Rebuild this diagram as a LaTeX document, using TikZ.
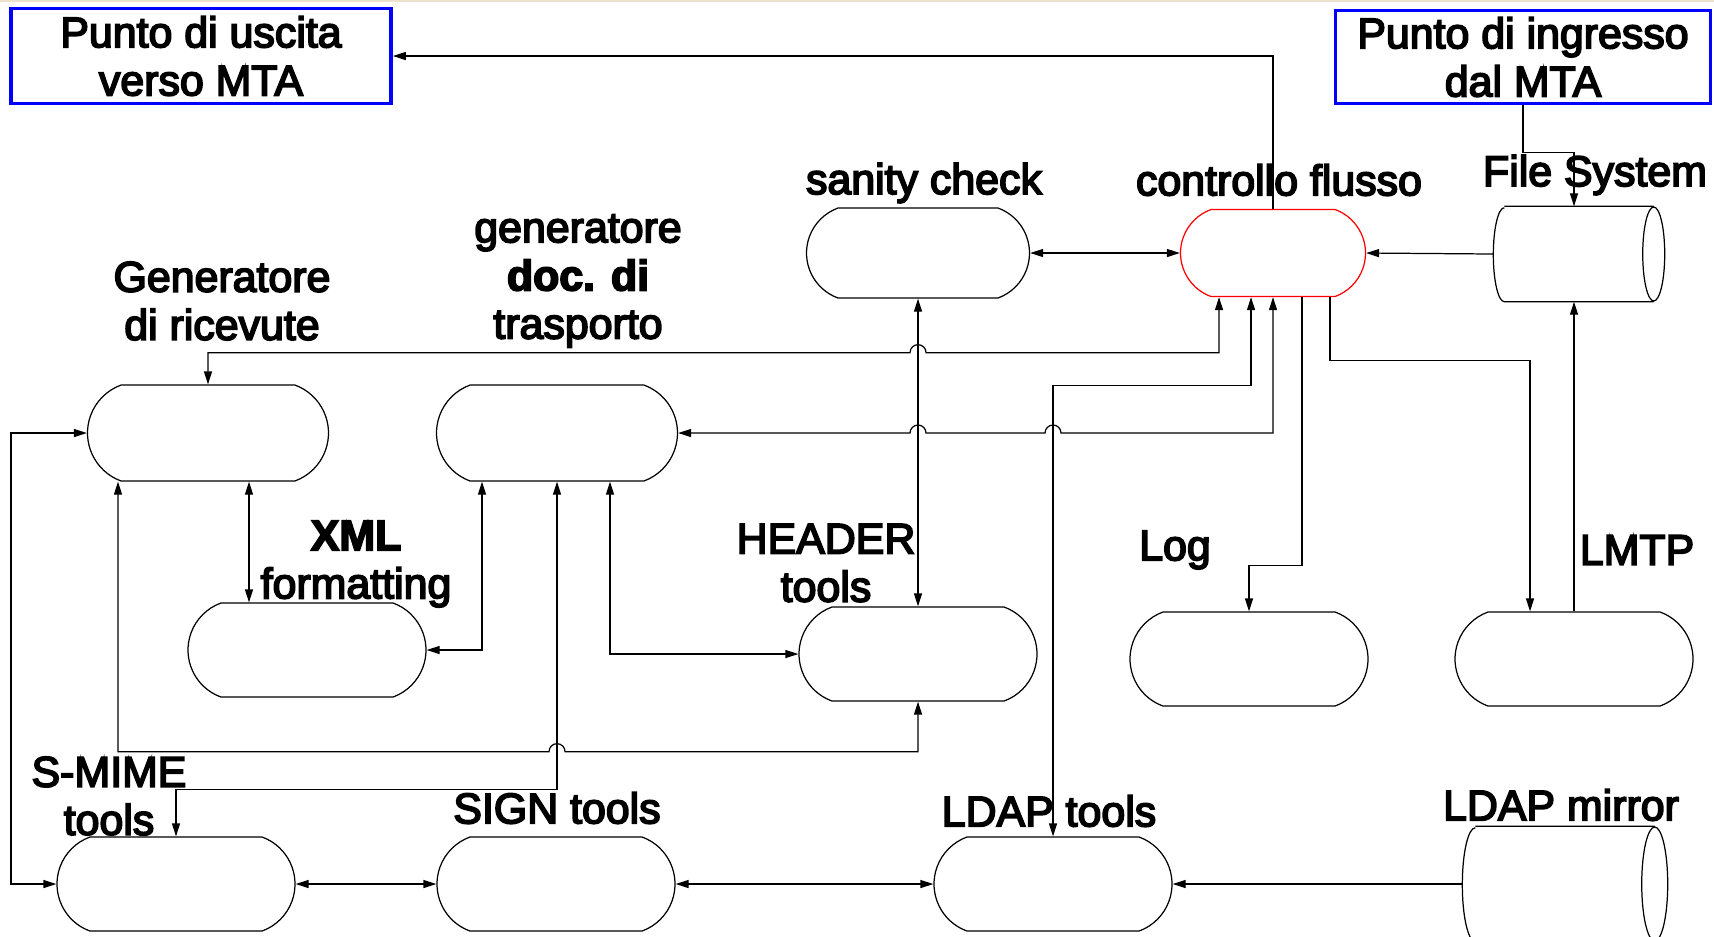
\documentclass[tikz,border=0pt]{standalone}
\usepackage{fontspec}
\setmainfont{Liberation Sans}[FakeBold=4]
\usetikzlibrary{shapes.geometric, shapes.misc, arrows.meta, calc}

\definecolor{mtablue}{RGB}{0,0,255}
\definecolor{topbeige}{RGB}{236,226,206}

\tikzstyle{proc_op} = [rounded rectangle, rounded rectangle arc length=140, draw=black, line width=0.35pt, minimum width=23.8mm, minimum height=9.4mm, inner sep=0pt]
\tikzstyle{mta_op} = [rectangle, draw=mtablue, line width=1.05pt, align=center, inner sep=0pt, font=\fontsize{12.2}{13.7}\selectfont]
\tikzstyle{db_op} = [rectangle, inner sep=0pt]
\tikzstyle{db_line} = [draw=black, line width=0.35pt]
\tikzstyle{lbl} = [align=center, inner sep=0pt, font=\fontsize{12.2}{13.7}\selectfont]
\tikzstyle{arr} = [line width=0.35pt, -{Triangle[length=1.3mm,width=0.8mm]}]
\tikzstyle{darr} = [line width=0.35pt, {Triangle[length=1.3mm,width=0.8mm]}-{Triangle[length=1.3mm,width=0.8mm]}]

\begin{document}
\begin{tikzpicture}[x=0.1mm, y=-0.1mm]
\useasboundingbox (0,0) rectangle (1714,936);
\clip (0,0) rectangle (1714,936);
\fill[topbeige] (0,0) rectangle (1714,2);

% MTA
\node (uscita) [mta_op, minimum width=38mm, minimum height=9.5mm] at (201,56) {Punto di uscita\\verso MTA};
\node (ingresso) [mta_op, minimum width=37.5mm, minimum height=9.3mm] at (1523,57) {Punto di ingresso\\dal MTA};

% moduli
\node (sanity) [proc_op, minimum width=22.3mm, minimum height=9mm] at (918,253) {};
\node (cf) [proc_op, draw=red, minimum width=18.5mm, minimum height=8.7mm] at (1273,253) {};
\node (ricevute) [proc_op, minimum width=24.1mm, minimum height=9.6mm] at (208,433) {};
\node (trasporto) [proc_op, minimum width=24.1mm, minimum height=9.6mm] at (557,433) {};
\node (xml) [proc_op] at (307,650) {};
\node (header) [proc_op] at (918,654) {};
\node (log) [proc_op] at (1249,659) {};
\node (lmtp) [proc_op] at (1574,659) {};
\node (smime) [proc_op] at (176,884) {};
\node (sign) [proc_op] at (556,884) {};
\node (ldap) [proc_op] at (1053,884) {};

% archivi (cilindri orizzontali)
\node (fs) [db_op, minimum width=17mm, minimum height=9.4mm] at (1579,254) {};
\draw[db_line] ([xshift=1.1mm]fs.north west) -- ([xshift=-1.1mm]fs.north east)
  ([xshift=-1.1mm]fs.east) ellipse [x radius=1.1mm, y radius=4.7mm]
  ([xshift=-1.1mm]fs.south east) -- ([xshift=1.1mm]fs.south west)
  arc[start angle=270, end angle=90, x radius=1.1mm, y radius=4.7mm];
\node (mirror) [db_op, minimum width=20.4mm, minimum height=11.4mm] at (1565,884) {};
\draw[db_line] ([xshift=1.3mm]mirror.north west) -- ([xshift=-1.3mm]mirror.north east)
  ([xshift=-1.3mm]mirror.east) ellipse [x radius=1.3mm, y radius=5.7mm]
  ([xshift=-1.3mm]mirror.south east) -- ([xshift=1.3mm]mirror.south west)
  arc[start angle=270, end angle=90, x radius=1.3mm, y radius=5.7mm];

% etichette
\node (t_sanity) [lbl] at (924,183) {sanity check};
\node (t_cf) [lbl] at (1279,180) {controllo flusso};
\node (t_fs) [lbl] at (1595,175) {File System};
\node (t_trasporto) [lbl] at (578,281) {generatore\\\textbf{doc. di}\\trasporto};
\node (t_ricevute) [lbl] at (222,301) {Generatore\\di ricevute};
\node (t_xml) [lbl] at (356,564) {\textbf{XML}\\formatting};
\node (t_header) [lbl] at (826,563) {HEADER\\tools};
\node (t_log) [lbl] at (1175,550) {Log};
\node (t_lmtp) [lbl] at (1637,550) {LMTP};
\node (t_smime) [lbl] at (109,796) {S-MIME\\tools};
\node (t_sign) [lbl] at (557,808) {SIGN tools};
\node (t_ldap) [lbl] at (1049,811) {LDAP tools};
\node (t_mirror) [lbl] at (1561,805) {LDAP mirror};

% collegamenti
\draw[arr] (cf.north) |- (uscita.east);
\draw[arr] (ingresso.south) -- ++(0,47) -| (lmtp.north |- fs.north);
\draw[arr] (fs.west) -- (cf.east);
\draw[darr] (sanity.east) -- (cf.west);
\draw[darr] (sanity.south) -- (header.north);
\draw[darr] ([xshift=-5.4mm]cf.south) |- ($(sanity.south)+(8,54)$) arc[start angle=0, end angle=180, radius=0.8mm] -| (ricevute.north);
\draw[darr] ([xshift=-2.2mm]cf.south) -- ++(0,88) -| (ldap.north);
\draw[darr] (cf.south) |- ($(ldap.north |- trasporto.east)+(8,0)$) arc[start angle=0, end angle=180, radius=0.8mm] -- ($(sanity.south |- trasporto.east)+(8,0)$) arc[start angle=0, end angle=180, radius=0.8mm] -- (trasporto.east);
\draw[arr] ([xshift=2.9mm]cf.south) -- ++(0,268) -| (log.north);
\draw[arr] ([xshift=5.7mm]cf.south) -- ++(0,63) -| ([xshift=-4.4mm]lmtp.north);
\draw[arr] (lmtp.north) -- (lmtp.north |- fs.south);
\draw[darr] ($(ricevute.south)+(41,0)$) coordinate (xl) -- (xl |- xml.north);
\draw[darr] ([xshift=-7.5mm]trasporto.south) |- (xml.east);
\draw[darr] ([xshift=5.3mm]trasporto.south) |- (header.west);
\draw[darr] ([xshift=-9mm]ricevute.south) |- ($(trasporto.south)+(-8,270)$) arc[start angle=180, end angle=0, radius=0.8mm] -| (header.south);
\draw[darr] (trasporto.south) -- ++(0,308) -| (smime.north);
\draw[darr] (ricevute.west) -- ++(-76,0) |- (smime.west);
\draw[darr] (smime.east) -- (sign.west);
\draw[darr] (sign.east) -- (ldap.west);
\draw[arr] (mirror.west) -- (ldap.east);
\end{tikzpicture}
\end{document}
